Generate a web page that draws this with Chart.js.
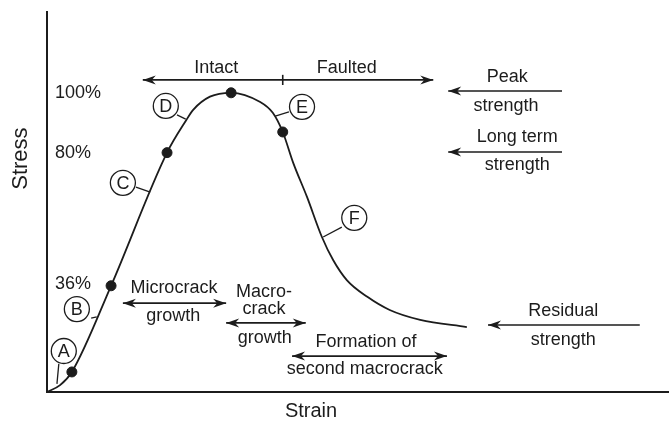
<!DOCTYPE html>
<html>
<head>
<meta charset="utf-8">
<script src="https://cdn.jsdelivr.net/npm/chart.js@4"></script>
<style>
  html, body { margin: 0; padding: 0; background: #fff; }
  #chart { display: block; }
</style>
</head>
<body>
<canvas id="chart" width="669" height="423"></canvas>
<script>
// stress-strain curve of rock: strain in arbitrary units (0-100), stress in % of peak
const strain = [0, 2.1, 4.0, 10.3, 19.3, 22.4, 23.5, 26.2, 29.6, 34.2, 36.3, 37.9, 39.6, 41.8, 44.2, 46.0, 48.2, 51.5, 55.1, 60.0, 67.5];
const stress = [0, 2.3, 6.7, 35.5, 80, 90.9, 94.3, 98.7, 100, 97.0, 93.3, 86.9, 76.5, 65.2, 51.8, 44.1, 37.4, 31.8, 27.4, 24.1, 21.7];

// black dots on the curve (A, 36%, 80%, peak, E)
const dotStrain = [4.0, 10.3, 19.3, 29.6, 37.9];
const dotStress = [6.7, 35.5, 80, 100, 86.9];

// stress levels written next to the axis
const stressTicks = [36, 80, 100];

const INK = "#1c1c1c";
const FONT = "'Liberation Sans', Arial, Helvetica, sans-serif";

// --- annotations, in data units (strain, stress) ---
const circles = [
  { t: "A", c: [2.7, 13.7], from: [1.9, 9.4], to: [1.6, 2.7] },
  { t: "B", c: [4.8, 27.7], from: [7.1, 24.7], to: [8.0, 25.1] },
  { t: "C", c: [12.2, 69.9], from: [14.3, 68.5], to: [16.6, 66.8] },
  { t: "D", c: [19.1, 95.6], from: [20.9, 92.6], to: [22.3, 91.2] },
  { t: "E", c: [41.0, 95.3], from: [38.9, 93.6], to: [36.7, 92.2] },
  { t: "F", c: [49.4, 58.2], from: [47.4, 55.1], to: [44.4, 51.8] }
];

const arrows = [
  { a: [15.4, 104.3], b: [62.1, 104.3], both: true },   // intact / faulted
  { a: [82.8, 100.6], b: [64.5, 100.6] },               // peak strength
  { a: [82.8, 80.2], b: [64.5, 80.2] },                 // long term strength
  { a: [12.2, 29.7], b: [28.8, 29.7], both: true },     // microcrack growth
  { a: [28.8, 23.1], b: [41.6, 23.1], both: true },     // macrocrack growth
  { a: [39.4, 12.0], b: [64.3, 12.0], both: true },     // second macrocrack
  { a: [95.3, 22.4], b: [70.9, 22.4] }                  // residual strength
];

const labels = [
  { t: "Intact", p: [27.2, 108.3] },
  { t: "Faulted", p: [48.2, 108.3] },
  { t: "Peak", p: [74.0, 105.3] },
  { t: "strength", p: [73.8, 95.6] },
  { t: "Long term", p: [75.6, 85.2] },
  { t: "strength", p: [75.6, 75.9] },
  { t: "Microcrack", p: [20.4, 34.8] },
  { t: "growth", p: [20.3, 25.4] },
  { t: "Macro-", p: [34.9, 33.4] },
  { t: "crack", p: [34.9, 27.7] },
  { t: "growth", p: [35.0, 18.0] },
  { t: "Formation of", p: [51.3, 16.7] },
  { t: "second macrocrack", p: [51.1, 7.7] },
  { t: "Residual", p: [83.0, 27.1] },
  { t: "strength", p: [83.0, 17.4] }
];

function arrowHead(ctx, x1, y1, x2, y2) {
  // head at (x2, y2) pointing away from (x1, y1)
  const ang = Math.atan2(y2 - y1, x2 - x1);
  ctx.save();
  ctx.translate(x2, y2);
  ctx.rotate(ang);
  ctx.beginPath();
  ctx.moveTo(0, 0);
  ctx.lineTo(-13, -4.5);
  ctx.lineTo(-9, 0);
  ctx.lineTo(-13, 4.5);
  ctx.closePath();
  ctx.fill();
  ctx.restore();
}

const notes = {
  id: "notes",
  afterDatasetsDraw(chart) {
    const { ctx, chartArea, scales: { x, y } } = chart;
    const X = v => x.getPixelForValue(v);
    const Y = v => y.getPixelForValue(v);

    ctx.save();
    ctx.strokeStyle = INK;
    ctx.fillStyle = INK;
    ctx.lineWidth = 1.6;

    // arrows
    arrows.forEach(ar => {
      const x1 = X(ar.a[0]), y1 = Y(ar.a[1]), x2 = X(ar.b[0]), y2 = Y(ar.b[1]);
      ctx.beginPath();
      ctx.moveTo(x1, y1);
      ctx.lineTo(x2, y2);
      ctx.stroke();
      arrowHead(ctx, x1, y1, x2, y2);
      if (ar.both) arrowHead(ctx, x2, y2, x1, y1);
    });

    // tick between intact and faulted
    ctx.beginPath();
    ctx.moveTo(X(37.9), Y(106));
    ctx.lineTo(X(37.9), Y(102.6));
    ctx.stroke();

    // circled letters with leader lines
    ctx.lineWidth = 1.3;
    circles.forEach(c => {
      ctx.beginPath();
      ctx.moveTo(X(c.from[0]), Y(c.from[1]));
      ctx.lineTo(X(c.to[0]), Y(c.to[1]));
      ctx.stroke();
      ctx.beginPath();
      ctx.fillStyle = "#fff";
      ctx.arc(X(c.c[0]), Y(c.c[1]), 12.5, 0, Math.PI * 2);
      ctx.fill();
      ctx.stroke();
      ctx.fillStyle = INK;
      ctx.font = "18px " + FONT;
      ctx.textAlign = "center";
      ctx.textBaseline = "middle";
      ctx.fillText(c.t, X(c.c[0]), Y(c.c[1]) + 1);
    });

    // text labels
    ctx.font = "18px " + FONT;
    ctx.textAlign = "center";
    ctx.textBaseline = "middle";
    labels.forEach(l => ctx.fillText(l.t, X(l.p[0]), Y(l.p[1])));

    // axis titles
    ctx.font = "20px " + FONT;
    ctx.fillText("Strain", (chartArea.left + chartArea.right) / 2 - 47, chartArea.bottom + 19);
    ctx.save();
    ctx.translate(chartArea.left - 26, Y(78));
    ctx.rotate(-Math.PI / 2);
    ctx.font = "22px " + FONT;
    ctx.fillText("Stress", 0, 0);
    ctx.restore();

    ctx.restore();
  }
};

new Chart(document.getElementById("chart"), {
  type: "line",
  data: {
    datasets: [
      {
        data: strain.map((s, i) => ({ x: s, y: stress[i] })),
        borderColor: INK,
        borderWidth: 1.8,
        pointRadius: 0,
        cubicInterpolationMode: "monotone",
        fill: false
      },
      {
        type: "scatter",
        data: dotStrain.map((s, i) => ({ x: s, y: dotStress[i] })),
        backgroundColor: INK,
        borderColor: INK,
        pointRadius: 5,
        showLine: false
      }
    ]
  },
  options: {
    responsive: false,
    animation: false,
    // the mirrored y ticks still reserve 2 x padding (16px) on the left
    layout: { autoPadding: false, padding: { left: 31, top: 12, right: 0, bottom: 31 } },
    plugins: {
      legend: { display: false },
      tooltip: { enabled: false }
    },
    scales: {
      x: {
        type: "linear",
        min: 0,
        max: 100,
        grid: { display: false, drawTicks: false },
        border: { display: true, color: INK, width: 2 },
        ticks: { display: false }
      },
      y: {
        type: "linear",
        min: 0,
        max: 127,
        grid: { display: false, drawTicks: false },
        border: { display: true, color: INK, width: 2 },
        afterBuildTicks: axis => { axis.ticks = stressTicks.map(v => ({ value: v })); },
        ticks: {
          mirror: true,
          padding: 8,
          color: INK,
          font: { size: 18, family: FONT, lineHeight: 0.3 },
          callback: v => v + "%"
        }
      }
    }
  },
  plugins: [notes]
});
</script>
</body>
</html>
